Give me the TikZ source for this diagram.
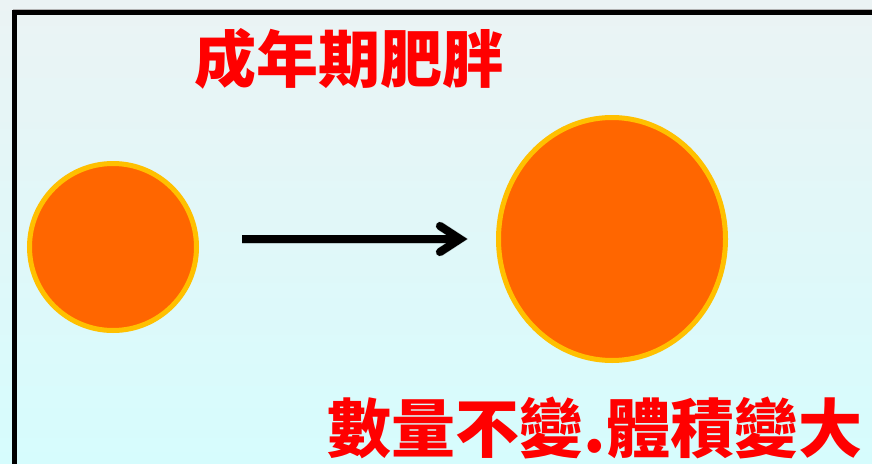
\documentclass[tikz,border=0pt]{standalone}
\usepackage{fontspec}
\newfontfamily\cjk{Noto Sans CJK TC}
\usetikzlibrary{shapes.geometric}
\definecolor{bgtop}{RGB}{235,243,244}
\definecolor{bgbot}{RGB}{214,252,253}
\definecolor{ballfill}{RGB}{255,102,0}
\definecolor{ballrim}{RGB}{255,192,0}
\definecolor{txtred}{RGB}{255,0,0}
\tikzset{
  ball/.style={ellipse, fill=ballfill, draw=ballrim, line width=5pt, inner sep=0pt},
  redtitle/.style={text=txtred, inner sep=0pt, anchor=center},
  arrowline/.style={line width=8pt, black},
  arrowshadow/.style={line width=9pt, black, opacity=0.18},
}
\begin{document}
\begin{tikzpicture}[x=1pt,y=-1pt]
\useasboundingbox (0,0) rectangle (872,463);
\clip (0,0) rectangle (872,463);
\shade[top color=bgtop, bottom color=bgbot] (0,0) rectangle (872,463);
% frame
\draw[gray!60, line width=1pt] (13,9.5) -- (900,9.5);
\draw[black, line width=5pt] (900,12.5) -- (14.5,12.5) -- (14.5,500);
% circles
\node[ball, minimum width=167pt, minimum height=167pt] (small) at (113,247) {};
\node[ball, minimum width=227pt, minimum height=243pt] (big) at (612,239) {};
% arrow
\coordinate (a1) at (242,239);
\coordinate (a2) at (458,239);
\coordinate (tip) at (460,239);
\coordinate (armU) at (440,226);
\coordinate (armD) at (440,252);
\begin{scope}[shift={(2,4)}]
  \draw[arrowshadow] (a1) -- (a2);
  \draw[arrowshadow, line cap=round, line join=miter] (armU) -- (tip) -- (armD);
\end{scope}
\draw[arrowline] (a1) -- (a2);
\draw[arrowline, line cap=round, line join=miter] (armU) -- (tip) -- (armD);
% texts
\node[redtitle, font=\cjk\bfseries\fontsize{62}{62}\selectfont] (t1) at (349,59) {成年期肥胖};
\node[redtitle, font=\cjk\bfseries\fontsize{64}{64}\selectfont] (t2) at (595,428) {數量不變.體積變大};
\end{tikzpicture}
\end{document}
